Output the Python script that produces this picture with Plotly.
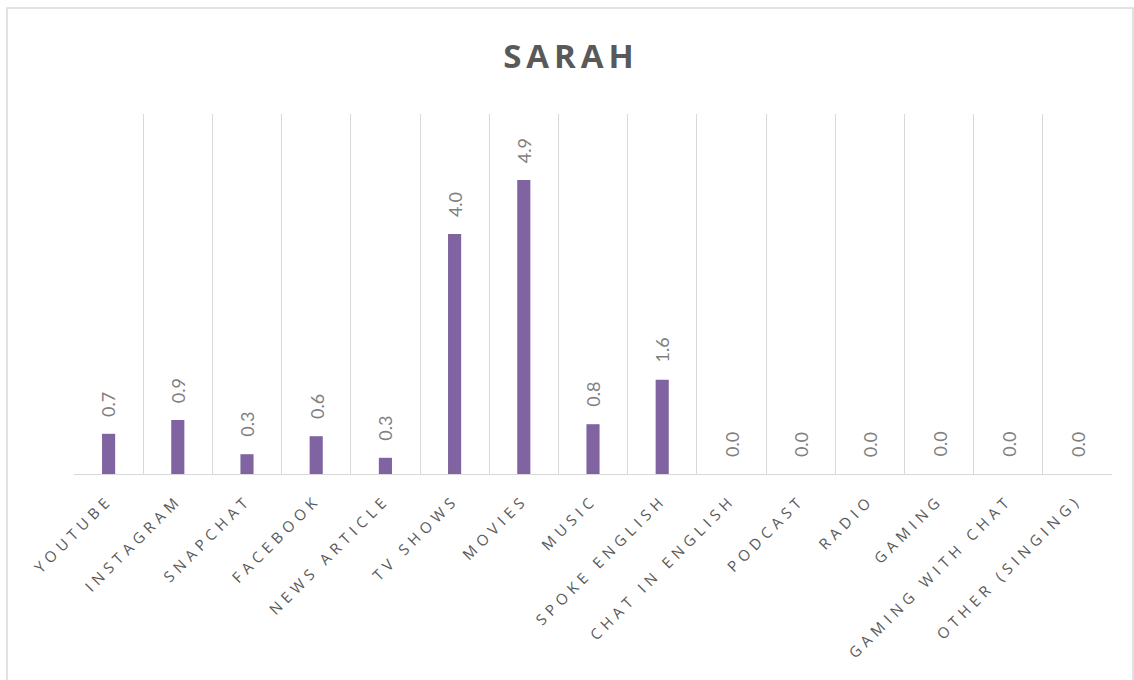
import plotly.graph_objects as go

categories = ["YOUTUBE", "INSTAGRAM", "SNAPCHAT", "FACEBOOK", "NEWS ARTICLE",
              "TV SHOWS", "MOVIES", "MUSIC", "SPOKE ENGLISH", "CHAT IN ENGLISH",
              "PODCAST", "RADIO", "GAMING", "GAMING WITH CHAT", "OTHER (SINGING)"]
values = [0.67, 0.9, 0.33, 0.63, 0.27, 4.0, 4.9, 0.83, 1.57, 0, 0, 0, 0, 0, 0]
title_text = "SARAH"

W, H = 1134, 680
L, R, T, B = 74, 22, 114, 206
pw, ph = W - L - R, H - T - B

fig = go.Figure()
fig.add_trace(go.Bar(
    x=categories, y=values,
    marker=dict(color="#8064A2", line=dict(width=0)),
    cliponaxis=False,
))

for c, v in zip(categories, values):
    fig.add_annotation(x=c, y=v, text=f"{v:.1f}", textangle=-90, showarrow=False,
                       xanchor="center", yanchor="bottom", yshift=15,
                       font=dict(family="Lato, Carlito, sans-serif", size=18, color="#7f7f7f"))

fig.update_layout(
    width=W, height=H,
    margin=dict(l=L, r=R, t=T, b=B),
    paper_bgcolor="white", plot_bgcolor="white",
    bargap=0.81,
    showlegend=False,
    title=dict(text=f"<b>{title_text}</b>", x=571 / W, xref="container", xanchor="center",
               y=1 - 56 / H, yanchor="middle", yref="container",
               font=dict(family="Open Sans, sans-serif", size=33, color="#595959")),
    xaxis=dict(type="category", tickson="boundaries", showgrid=True,
               gridcolor="#d9d9d9", gridwidth=1.4, showline=True, linecolor="#d9d9d9",
               linewidth=1.4, ticks="", tickangle=-45, ticklabelstandoff=10,
               tickfont=dict(family="Open Sans, sans-serif", size=15, color="#595959")),
    yaxis=dict(range=[0, 6], showgrid=False, zeroline=False, showticklabels=False,
               showline=False),
)

# outer chart border
fig.add_shape(type="rect", xref="paper", yref="paper",
              x0=(7 - L) / pw, x1=(1133 - L) / pw,
              y0=(H - B - 700) / ph, y1=(H - B - 8) / ph,
              line=dict(color="#d9d9d9", width=1.5), fillcolor="rgba(0,0,0,0)", layer="below")

css = ("body{margin:0;}"
       ".xtick text{letter-spacing:5px;}"
       ".gtitle{letter-spacing:5px;}")
post = ("var s=document.createElement('style');s.innerHTML='" + css + "';"
        "document.head.appendChild(s);")

fig.write_html("out.html", post_script=post, config={"displayModeBar": False})
